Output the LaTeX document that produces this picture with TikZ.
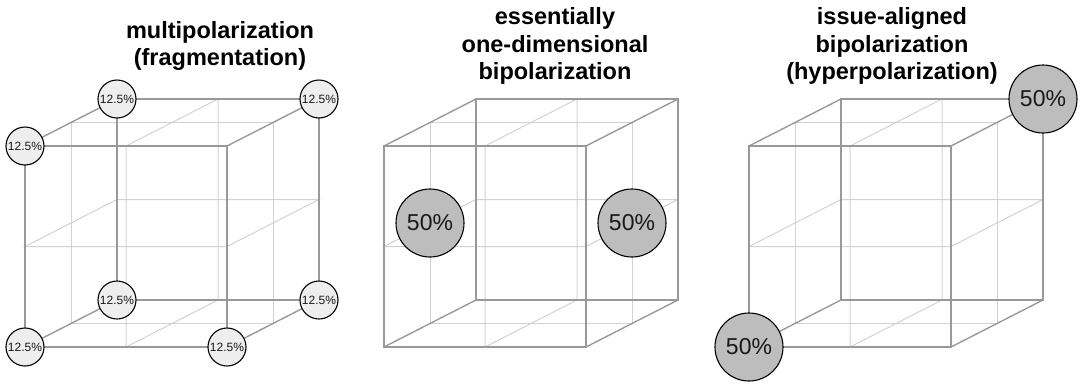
\documentclass[tikz,border=0pt]{standalone}
\usepackage{fontspec}
\setmainfont{Liberation Sans}
\usetikzlibrary{calc}
\definecolor{cubegray}{RGB}{153,153,153}
\definecolor{gridgray}{RGB}{210,210,210}
\definecolor{lowfill}{RGB}{238,238,238}
\definecolor{highfill}{RGB}{189,189,189}
\newcommand{\cW}{202}
\newcommand{\cH}{201}
\newcommand{\dX}{92}
\newcommand{\dY}{47}
\tikzset{
  cedge/.style ={draw=cubegray,line width=1.4pt,line cap=round},
  gline/.style ={draw=gridgray,line width=1pt},
  pdot/.style  ={circle,draw=black,line width=1.1pt,inner sep=0pt,text=black!90},
  sdot/.style  ={pdot,fill=lowfill,minimum size=38pt,font=\fontsize{12}{14}\selectfont},
  bdot/.style  ={pdot,fill=highfill,minimum size=68pt,font=\fontsize{23}{26}\selectfont},
  ttl/.style   ={align=center,font=\fontsize{23.5}{27.5}\selectfont\bfseries},
}
\newcommand{\qcube}[3]{%
  \coordinate (#1ftl) at (#2,#3);
  \coordinate (#1ftr) at (#2+\cW,#3);
  \coordinate (#1fbl) at (#2,#3+\cH);
  \coordinate (#1fbr) at (#2+\cW,#3+\cH);
  \foreach \c in {tl,tr,bl,br}{ \coordinate (#1b\c) at ($(#1f\c)+(\dX,-\dY)$); }
  % light mid planes
  \draw[gline] ($(#1ftl)!.5!(#1btl)$) -- ($(#1ftr)!.5!(#1btr)$) -- ($(#1fbr)!.5!(#1bbr)$) -- ($(#1fbl)!.5!(#1bbl)$) -- cycle;
  \draw[gline] ($(#1ftl)!.5!(#1ftr)$) -- ($(#1btl)!.5!(#1btr)$) -- ($(#1bbl)!.5!(#1bbr)$) -- ($(#1fbl)!.5!(#1fbr)$) -- cycle;
  \draw[gline] ($(#1ftl)!.5!(#1fbl)$) -- ($(#1ftr)!.5!(#1fbr)$) -- ($(#1btr)!.5!(#1bbr)$) -- ($(#1btl)!.5!(#1bbl)$) -- cycle;
  % cube edges
  \foreach \f in {f,b}{ \draw[cedge] (#1\f tl) -- (#1\f tr) -- (#1\f br) -- (#1\f bl) -- cycle; }
  \foreach \c in {tl,tr,bl,br}{ \draw[cedge] (#1f\c) -- (#1b\c); }
}

\begin{document}
\begin{tikzpicture}[x=1pt,y=-1pt]
  \useasboundingbox (0,0) rectangle (1080,386);
  \qcube{A}{25}{146}  \qcube{B}{384}{146}  \qcube{C}{749}{146}
  \node[ttl] (tA) at (220,46) {multipolarization\\(fragmentation)};
  \node[ttl] (tB) at (555,46) {essentially\\one-dimensional\\bipolarization};
  \node[ttl] (tC) at (892,46) {issue-aligned\\bipolarization\\(hyperpolarization)};
  \foreach \c in {ftl,fbl,fbr,btl,btr,bbl,bbr}{ \node[sdot] (sA\c) at (A\c) {12.5\%}; }
  \node[bdot] (bBl) at ($(Bftl)!.5!(Bbbl)$) {50\%};
  \node[bdot] (bBr) at ($(Bftr)!.5!(Bbbr)$) {50\%};
  \node[bdot] (bCf) at (Cfbl) {50\%};
  \node[bdot] (bCb) at (Cbtr) {50\%};
\end{tikzpicture}
\end{document}
